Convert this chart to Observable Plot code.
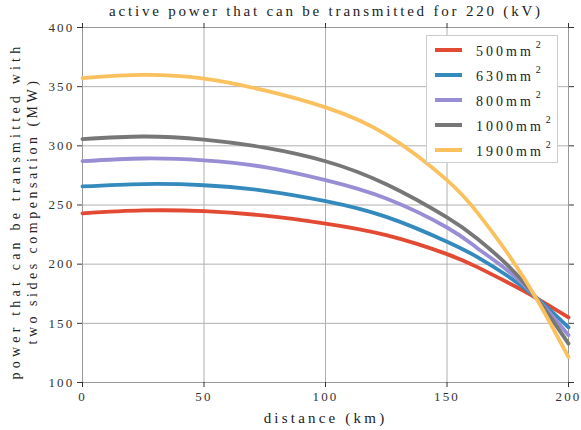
<!DOCTYPE html>
<html><head><meta charset="utf-8">
<script src="https://cdn.jsdelivr.net/npm/d3@7"></script>
<script src="https://cdn.jsdelivr.net/npm/@observablehq/plot@0.6"></script>
<style>
body{margin:0;background:#fff;}
#wrap{position:relative;width:581px;height:430px;font-family:"Liberation Serif","DejaVu Serif",serif;}
#title{position:absolute;left:0;top:3px;width:652px;text-align:center;font-size:15px;letter-spacing:2.8px;color:#222;}
#legend{position:absolute;left:426px;top:35px;width:132px;height:128px;border:1px solid #ccc;background:#fff;box-sizing:border-box;}
.item{position:absolute;left:8px;height:20px;display:flex;align-items:center;font-size:14px;letter-spacing:3px;color:#222;}
.sw{width:27px;height:4px;margin-right:14px;}
.item sup{font-size:10px;position:relative;top:-2px;margin-left:2px;}
</style>
</head><body>
<div id="wrap"></div>
<script>
const distance = [0, 25, 50, 75, 100, 125, 150, 162.5, 175, 187.5, 200];
const p500  = [243.0, 245.4, 244.8, 241.0, 234.3, 224.5, 208.5, 197.5, 184.5, 170.5, 155.0];
const p630  = [265.7, 267.7, 266.7, 262.0, 253.3, 240.0, 219.0, 206.0, 190.0, 170.5, 146.5];
const p800  = [287.0, 289.3, 287.7, 282.0, 271.0, 255.5, 231.0, 213.5, 194.5, 170.0, 140.0];
const p1000 = [305.6, 307.9, 305.3, 298.5, 287.0, 267.5, 239.5, 221.5, 199.0, 169.5, 132.8];
const p1900 = [357.3, 359.9, 356.8, 346.8, 332.5, 309.5, 271.0, 243.5, 209.0, 168.5, 121.5];
const cables = ["500", "630", "800", "1000", "1900"];
const colors = ["#E24A33", "#348ABD", "#988ED5", "#777777", "#FBC15E"];
const xTicks = [0, 50, 100, 150, 200];
const yTicks = [100, 150, 200, 250, 300, 350, 400];
const titleText = "active power that can be transmitted for 220 (kV)";
const yLabel1 = "power that can be transmitted with";
const yLabel2 = "two sides compensation (MW)";
const xLabel = "distance (km)";

const seriesValues = [p500, p630, p800, p1000, p1900];
const data = cables.flatMap((c, k) => distance.map((d, i) => ({distance: d, power: seriesValues[k][i], cable: c})));

const font = "'Liberation Serif', 'DejaVu Serif', serif";
const chart = Plot.plot({
  width: 581,
  height: 430,
  marginLeft: 82,
  marginRight: 13,
  marginTop: 27,
  marginBottom: 48,
  style: {fontFamily: font, fontSize: "13px", color: "#333", background: "#fff"},
  x: {domain: [0, 200], ticks: xTicks, label: null},
  y: {domain: [100, 400], ticks: yTicks, label: null},
  color: {domain: cables, range: colors},
  marks: [
    Plot.gridX(xTicks, {stroke: "#b0b0b0", strokeOpacity: 1, strokeWidth: 1}),
    Plot.gridY(yTicks, {stroke: "#b0b0b0", strokeOpacity: 1, strokeWidth: 1}),
    Plot.frame({stroke: "#999", strokeWidth: 1}),
    Plot.axisX(xTicks, {anchor: "bottom", tickSize: 5, tickPadding: 4, stroke: "#333", fill: "#333"}),
    Plot.axisX(xTicks, {anchor: "top", tickSize: 5, tickFormat: () => "", stroke: "#333", label: null}),
    Plot.axisY(yTicks, {anchor: "left", tickSize: 5, tickPadding: 3, stroke: "#333", fill: "#333"}),
    Plot.axisY(yTicks, {anchor: "right", tickSize: 5, tickFormat: () => "", stroke: "#333", label: null}),
    Plot.line(data, {x: "distance", y: "power", z: "cable", stroke: "cable", strokeWidth: 3.8, curve: "natural"}),
    Plot.text([yLabel1], {frameAnchor: "left", textAnchor: "middle", rotate: -90, dx: -67, dy: 6, fontSize: 14, fill: "#222"}),
    Plot.text([yLabel2], {frameAnchor: "left", textAnchor: "middle", rotate: -90, dx: -50, dy: 6, fontSize: 14, fill: "#222"}),
    Plot.text([xLabel], {frameAnchor: "bottom", dy: 40, fontSize: 15, fill: "#222"})
  ]
});

d3.select(chart).selectAll("text").each(function() {
  const s = this.textContent;
  const el = d3.select(this).style("font-family", font);
  if (s === yLabel1) el.style("letter-spacing", "4.2px");
  else if (s === yLabel2) el.style("letter-spacing", "3.5px");
  else if (s === xLabel) el.style("letter-spacing", "3.2px");
  else el.style("letter-spacing", "2.2px").style("font-size", "13px");
});

const wrap = document.getElementById("wrap");
wrap.appendChild(chart);
const t = document.createElement("div");
t.id = "title";
t.textContent = titleText;
wrap.appendChild(t);
const leg = document.createElement("div");
leg.id = "legend";
cables.forEach((c, k) => {
  const it = document.createElement("div");
  it.className = "item";
  it.style.top = (4 + k * 25) + "px";
  it.innerHTML = `<span class="sw" style="background:${colors[k]}"></span><span>${c}mm<sup>2</sup></span>`;
  leg.appendChild(it);
});
wrap.appendChild(leg);
</script>
</body></html>
